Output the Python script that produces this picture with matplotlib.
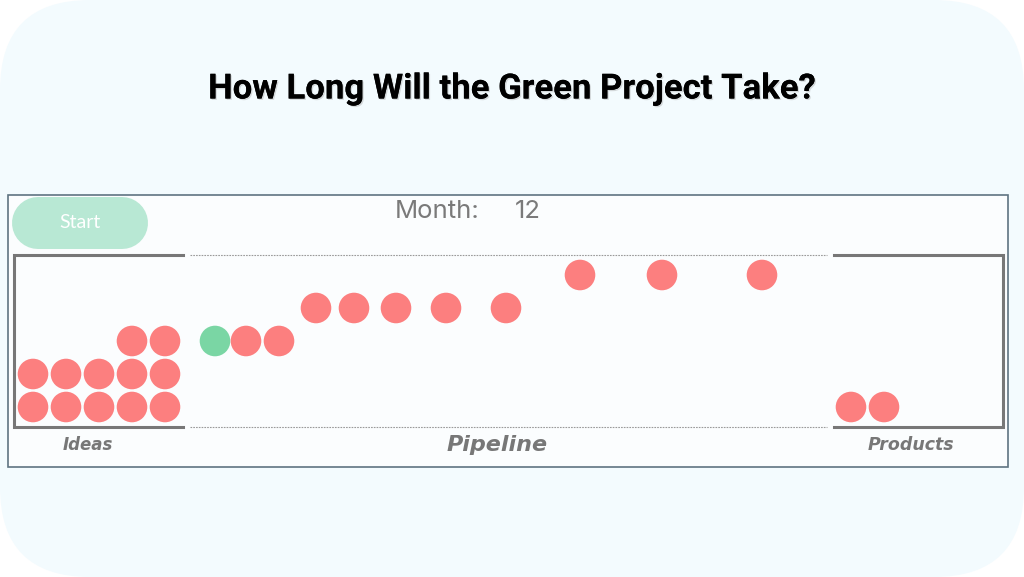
import matplotlib
matplotlib.use("Agg")
import matplotlib.pyplot as plt
from matplotlib.patches import FancyBboxPatch, Rectangle
import matplotlib.patheffects as pe

# ---------------- data ----------------
title = "How Long Will the Green Project Take?"
month = 12
button_label = "Start"
section_labels = ["Ideas", "Pipeline", "Products"]

# Ideas bin: items per row (bottom to top), right aligned
ideas_rows = [5, 5, 2]

# Pipeline items: horizontal position (px) and lane level (0 = bottom)
pipeline_x = [215, 246, 279, 316, 354, 396, 446, 506, 580, 662, 762]
pipeline_level = [2, 2, 2, 3, 3, 3, 3, 3, 4, 4, 4]
pipeline_is_green = [True, False, False, False, False, False, False, False, False, False, False]

# Products bin: finished count
products_count = 2

# ---------------- style ----------------
RED = "#fc7f7f"
GREEN = "#7ad6a4"
GRAY = "#777777"
W, H = 1024, 577
R = 15.3           # circle radius in px
STEP = 33          # spacing between stacked circles
BOTTOM_Y = 407     # centre y of bottom row
PX = 72 / 100      # points per pixel

fig = plt.figure(figsize=(W / 100, H / 100), dpi=100, facecolor="white")
ax = fig.add_axes([0, 0, 1, 1])
ax.set_xlim(0, W)
ax.set_ylim(H, 0)
ax.axis("off")

# outer rounded panel
ax.add_patch(FancyBboxPatch((90, 90), W - 180, H - 180,
                            boxstyle="round,pad=90,rounding_size=90",
                            facecolor="#f3fbfe", edgecolor="none", zorder=0))

# title
ax.text(W / 2, 89, title, ha="center", va="center", fontsize=25,
        fontweight="bold", family="Roboto", color="black", zorder=5,
        path_effects=[pe.withSimplePatchShadow(offset=(1.0, -1.0),
                                               shadow_rgbFace="#999999", alpha=0.35),
                      pe.Normal()])

# inner frame
ax.add_patch(Rectangle((7.5, 194.5), 1000.5, 272.5, facecolor="#fbfdfe",
                       edgecolor="#5f7482", lw=1.2, zorder=1))

# start button (pill)
ax.plot([38, 122], [223, 223], color="#b8e8d4", lw=52 * PX,
        solid_capstyle="round", zorder=2)
ax.text(80, 223, button_label, ha="center", va="center", fontsize=14,
        color="white", family="Lato", zorder=3)

# month counter
ax.text(395, 212, "Month:", ha="left", va="center", fontsize=18.5,
        color="#7a7a7a", family="Inter", zorder=3)
ax.text(515, 212, str(month), ha="left", va="center", fontsize=18.5,
        color="#7a7a7a", family="Inter", zorder=3)

# bins
TOP, BOT = 255, 427
ax.plot([183, 14, 14, 183], [TOP, TOP, BOT, BOT], color=GRAY, lw=2.2,
        solid_joinstyle="miter", zorder=2)
ax.plot([834, 1003, 1003, 834], [TOP, TOP, BOT, BOT], color=GRAY, lw=2.2,
        solid_joinstyle="miter", zorder=2)
for yy in (TOP, BOT):
    ax.plot([190, 827], [yy, yy], color="#9a9a9a", lw=0.8, ls=(0, (1.5, 1.0)),
            zorder=2)

# circles
s = (2 * R * PX) ** 2
xs, ys, cs = [], [], []
for row, n in enumerate(ideas_rows):
    for k in range(n):
        xs.append(165 - STEP * (n - 1 - k))
        ys.append(BOTTOM_Y - STEP * row)
        cs.append(RED)
for x, lvl, g in zip(pipeline_x, pipeline_level, pipeline_is_green):
    xs.append(x)
    ys.append(BOTTOM_Y - STEP * lvl)
    cs.append(GREEN if g else RED)
for k in range(products_count):
    xs.append(851 + STEP * k)
    ys.append(BOTTOM_Y)
    cs.append(RED)
ax.scatter(xs, ys, s=s, c=cs, edgecolors="none", zorder=4)

# section labels
lab_x = [88, 497, 911]
lab_sz = [12, 16, 12.5]
for x, t, fs in zip(lab_x, section_labels, lab_sz):
    ax.text(x, 445, t, ha="center", va="center", fontsize=fs, color=GRAY,
            fontweight="bold", fontstyle="italic", family="DejaVu Sans", zorder=3)

fig.savefig("out.png", dpi=100, facecolor="white")
